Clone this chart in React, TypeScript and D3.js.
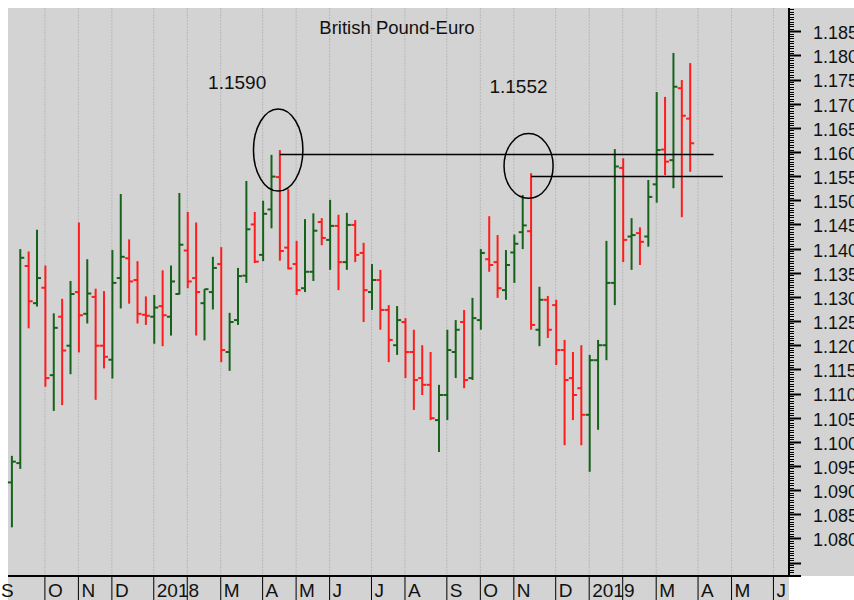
import React, { useEffect, useRef } from 'react';
import * as d3 from 'd3';

// Weekly GBP/EUR bars, Sep 2017 - Mar 2019
const open = [
	1.0916, 1.0956, 1.1364, 1.1287, 1.1319, 1.1138, 1.1259, 1.1199, 1.131, 1.1265,
	1.13, 1.1199, 1.117, 1.1339, 1.138, 1.1335, 1.1263, 1.1259, 1.1281, 1.1259,
	1.1306, 1.1396, 1.1339, 1.1287, 1.131, 1.1368, 1.1186, 1.1252, 1.1344, 1.145,
	1.1387, 1.1481, 1.1548, 1.1402, 1.1368, 1.1318, 1.1352, 1.1455, 1.1418, 1.1447,
	1.1372, 1.1449, 1.1391, 1.131, 1.1335, 1.1273, 1.12, 1.1248, 1.1186, 1.1132,
	1.1118, 1.1045, 1.1097, 1.1186, 1.1248, 1.1132, 1.1252, 1.1378, 1.1372, 1.1314,
	1.1392, 1.1434, 1.1436, 1.1232, 1.1294, 1.1283, 1.119, 1.1132, 1.1111, 1.1056,
	1.1169, 1.12, 1.1329, 1.1567, 1.1425, 1.1432, 1.1425, 1.1533, 1.1605, 1.1583,
	1.1732, 1.1669,
];
const high = [
	1.0971, 1.1399, 1.1394, 1.1439, 1.1365, 1.1266, 1.1296, 1.1333, 1.1454, 1.1378,
	1.1317, 1.1312, 1.1397, 1.1513, 1.1419, 1.1374, 1.1301, 1.1304, 1.1355, 1.1365,
	1.1515, 1.1476, 1.1454, 1.1316, 1.1383, 1.1403, 1.1267, 1.136, 1.154, 1.1476,
	1.1499, 1.1594, 1.1604, 1.1523, 1.1416, 1.1461, 1.1473, 1.1463, 1.1501, 1.147,
	1.1474, 1.1459, 1.1412, 1.1368, 1.1356, 1.1283, 1.1281, 1.1256, 1.1232, 1.12,
	1.1186, 1.1118, 1.1232, 1.1252, 1.1273, 1.1298, 1.1399, 1.1467, 1.1428, 1.1397,
	1.1429, 1.1511, 1.1556, 1.1321, 1.1302, 1.1294, 1.1211, 1.1186, 1.12, 1.118,
	1.1211, 1.1416, 1.1606, 1.1587, 1.1463, 1.1444, 1.1542, 1.1724, 1.1714, 1.1805,
	1.1749, 1.1784,
];
const low = [
	1.0823, 1.0944, 1.1235, 1.128, 1.1114, 1.1064, 1.1076, 1.114, 1.1185, 1.1245,
	1.1087, 1.1152, 1.1131, 1.1276, 1.1286, 1.1245, 1.1242, 1.1203, 1.1198, 1.122,
	1.1305, 1.1318, 1.122, 1.121, 1.1274, 1.1165, 1.1147, 1.1242, 1.1329, 1.137,
	1.1374, 1.1442, 1.1375, 1.1357, 1.1304, 1.131, 1.1333, 1.1407, 1.1356, 1.1314,
	1.1356, 1.1372, 1.1248, 1.1273, 1.1232, 1.1165, 1.118, 1.1132, 1.1066, 1.1097,
	1.1045, 1.0979, 1.1045, 1.1132, 1.1111, 1.1128, 1.1232, 1.1352, 1.1298, 1.1294,
	1.1329, 1.1399, 1.1232, 1.1198, 1.1215, 1.1159, 1.0993, 1.1045, 1.0993, 1.0938,
	1.1025, 1.1169, 1.1283, 1.1372, 1.1356, 1.1366, 1.1404, 1.1495, 1.1552, 1.1525,
	1.1465, 1.1559,
];
const close = [
	1.0959, 1.1381, 1.1291, 1.1339, 1.1132, 1.1236, 1.1189, 1.1306, 1.1262, 1.1307,
	1.1199, 1.1176, 1.1329, 1.1383, 1.1332, 1.1265, 1.1261, 1.1278, 1.1262, 1.1332,
	1.1408, 1.1332, 1.131, 1.1316, 1.136, 1.119, 1.1248, 1.1343, 1.144, 1.1373,
	1.1472, 1.1549, 1.1395, 1.1359, 1.1314, 1.1352, 1.1437, 1.1422, 1.1447, 1.1372,
	1.1449, 1.1387, 1.1314, 1.1335, 1.1273, 1.1211, 1.1252, 1.1186, 1.1128, 1.1118,
	1.1049, 1.1097, 1.119, 1.1232, 1.1128, 1.1256, 1.1391, 1.1366, 1.1318, 1.1366,
	1.141, 1.1448, 1.1242, 1.1294, 1.1232, 1.119, 1.1128, 1.1097, 1.1056, 1.1169,
	1.12, 1.1329, 1.157, 1.1418, 1.1428, 1.1414, 1.1507, 1.1604, 1.158, 1.1735,
	1.1675, 1.1618,
];

// week index of the first bar of each month, and the axis label for it
const monthStart = [-1, 4, 8, 12, 17, 21, 25, 30, 34, 38, 43, 47, 52, 56, 60, 65, 69, 73, 77, 82, 86, 91];
const monthLabel = ['S', 'O', 'N', 'D', '2018', 'F', 'M', 'A', 'M', 'J', 'J', 'A', 'S', 'O', 'N', 'D', '2019', 'F', 'M', 'A', 'M', 'J'];

// marked highs with their circle and level line
const marks = [
	{ week: 32, value: 1.1595, lineTo: 83.8, label: '1.1590', labelWeek: 26.9, labelValue: 1.173, ex: 31.8, ey: 1.1604, rx: 2.95, ry: 0.0085 },
	{ week: 62, value: 1.1549, lineTo: 84.9, label: '1.1552', labelWeek: 60.5, labelValue: 1.1722, ex: 61.7, ey: 1.1571, rx: 2.93, ry: 0.0067 },
];

const title = 'British Pound-Euro';

const W = 854;
const H = 600;
const left = 8;
const top = 8;
const right = 789;
const bottom = 576;
const font = '"Liberation Sans", Arial, Helvetica, sans-serif';
const GREEN = '#17621a';
const RED = '#ff1c1c';

export default function App() {
	const ref = useRef<SVGSVGElement>(null);

	useEffect(() => {
		const svg = d3.select(ref.current);
		svg.selectAll('*').remove();

		const x = d3.scaleLinear().domain([-0.466, 92.8]).range([left, right]);
		const y = d3.scaleLinear().domain([1.07223, 1.1898]).range([bottom, top]);

		// background
		svg.append('rect').attr('x', left).attr('y', top).attr('width', W - left).attr('height', bottom - top).attr('fill', '#d3d3d3');
		svg.append('rect').attr('x', left).attr('y', bottom).attr('width', right - left).attr('height', H - bottom).attr('fill', '#d3d3d3');

		// month grid (dotted)
		const seps = monthStart.filter((m) => x(m) > left);
		svg.append('g')
			.selectAll('line')
			.data(seps)
			.join('line')
			.attr('x1', (d) => x(d) - 0.5)
			.attr('x2', (d) => x(d) - 0.5)
			.attr('y1', top)
			.attr('y2', bottom)
			.attr('stroke', '#b9b9b9')
			.attr('stroke-width', 1)
			.attr('stroke-dasharray', '2,1');

		// OHLC bars
		const bars = open.map((o, i) => ({ i, o, h: high[i], l: low[i], c: close[i] }));
		const g = svg.append('g');
		bars.forEach((b) => {
			const col = b.c >= b.o ? GREEN : RED;
			const cx = x(b.i);
			g.append('line').attr('x1', cx).attr('x2', cx).attr('y1', y(b.h)).attr('y2', y(b.l)).attr('stroke', col).attr('stroke-width', 2);
			g.append('line').attr('x1', cx - 4).attr('x2', cx).attr('y1', y(b.o)).attr('y2', y(b.o)).attr('stroke', col).attr('stroke-width', 2);
			g.append('line').attr('x1', cx).attr('x2', cx + 4).attr('y1', y(b.c)).attr('y2', y(b.c)).attr('stroke', col).attr('stroke-width', 2);
		});

		// annotations
		const pxPerWeek = x(1) - x(0);
		const pxPerUnit = y(0) - y(1);
		marks.forEach((m) => {
			svg.append('line')
				.attr('x1', x(m.week))
				.attr('x2', x(m.lineTo))
				.attr('y1', y(m.value))
				.attr('y2', y(m.value))
				.attr('stroke', '#000')
				.attr('stroke-width', 1.5);
			svg.append('ellipse')
				.attr('cx', x(m.ex))
				.attr('cy', y(m.ey))
				.attr('rx', m.rx * pxPerWeek)
				.attr('ry', m.ry * pxPerUnit)
				.attr('fill', 'none')
				.attr('stroke', '#000')
				.attr('stroke-width', 1.5);
			svg.append('text')
				.attr('x', x(m.labelWeek))
				.attr('y', y(m.labelValue))
				.attr('text-anchor', 'middle')
				.attr('font-family', font)
				.attr('font-size', 19)
				.attr('fill', '#111')
				.text(m.label);
		});

		svg.append('text')
			.attr('x', 397)
			.attr('y', 34)
			.attr('text-anchor', 'middle')
			.attr('font-family', font)
			.attr('font-size', 18.5)
			.attr('fill', '#111')
			.text(title);

		// right value axis
		const ax = svg.append('g');
		const minor = d3.range(2145, 2380).map((k) => k / 2000).filter((v) => y(v) > top + 1 && y(v) < bottom - 1);
		ax.selectAll('line.minor')
			.data(minor)
			.join('line')
			.attr('x1', right)
			.attr('x2', (d) => (Math.round(d * 2000) % 10 === 0 ? right + 12 : right + 5))
			.attr('y1', (d) => Math.round(y(d)) + 0.5)
			.attr('y2', (d) => Math.round(y(d)) + 0.5)
			.attr('stroke', '#000')
			.attr('stroke-width', (d) => (Math.round(d * 2000) % 10 === 0 ? 2 : 1));
		const majors = d3.range(216, 238).map((k) => k / 200);
		ax.selectAll('text')
			.data(majors)
			.join('text')
			.attr('x', 813)
			.attr('y', (d) => y(d))
			.attr('dy', '0.44em')
			.attr('font-family', font)
			.attr('font-size', 18)
			.attr('fill', '#111')
			.text((d) => d3.format('.3f')(d));
		ax.append('line').attr('x1', right).attr('x2', right).attr('y1', top).attr('y2', bottom).attr('stroke', '#000').attr('stroke-width', 2);

		// bottom month axis
		svg.append('line').attr('x1', left).attr('x2', right + 12).attr('y1', bottom).attr('y2', bottom).attr('stroke', '#000').attr('stroke-width', 2);
		svg.append('g')
			.selectAll('line')
			.data(seps)
			.join('line')
			.attr('x1', (d) => x(d) - 0.5)
			.attr('x2', (d) => x(d) - 0.5)
			.attr('y1', bottom)
			.attr('y2', H)
			.attr('stroke', '#000')
			.attr('stroke-width', 1);
		const labels = monthStart
			.map((m, i) => ({ m, t: monthLabel[i], prev: monthLabel[i - 1] }))
			.filter((d) => !(d.prev && d.prev.length === 4));
		svg.append('g')
			.selectAll('text')
			.data(labels)
			.join('text')
			// the first month starts before the plot, so its label hangs left of it
			.attr('x', (d) => (x(d.m) > left ? x(d.m) + 2.5 : x(d.m) - 2.5))
			.attr('y', 597)
			.attr('font-family', font)
			.attr('font-size', 19)
			.attr('fill', '#111')
			.text((d) => d.t);
	}, []);

	return <svg ref={ref} width={W} height={H} style={{ position: 'absolute', left: 0, top: 0, display: 'block' }} />;
}
